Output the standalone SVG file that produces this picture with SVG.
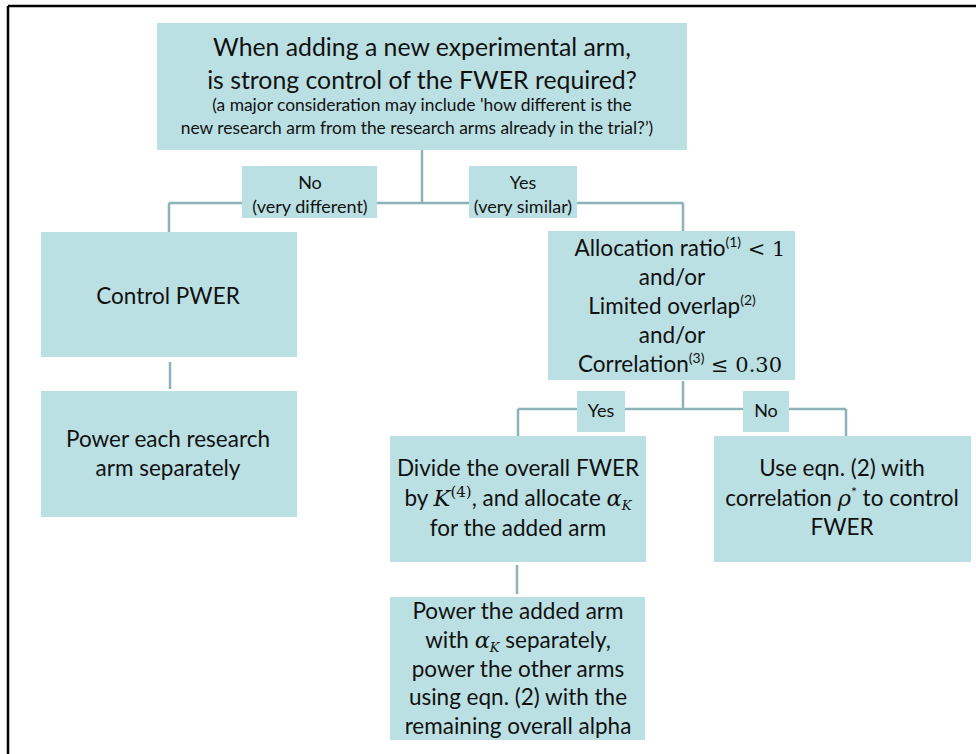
<svg xmlns="http://www.w3.org/2000/svg" width="976" height="754" viewBox="0 0 976 754">
<style>
.box{fill:#BBE0E3;}
.lbl{fill:#BBE0E3;}
.t{font-family:Lato,"Open Sans",sans-serif;fill:#111111;text-anchor:middle;}
.big{font-size:24.8px;}
.sm{font-size:17.4px;}
.m{font-size:22.5px;}
.l{font-size:18px;}
.ls{font-size:18px;}
.math{font-family:"DejaVu Serif","Liberation Serif",serif;font-style:italic;}
.conn{stroke:#8DB3B6;stroke-width:2.5;fill:none;}
</style>
<rect width="976" height="754" fill="#ffffff"/>
<path d="M8 6 H976 M8 6 V754" stroke="#000" stroke-width="2.5" fill="none"/>
<g id="connectors" class="conn">
<path d="M422 150 V203 M169 203 H683 M169 203 V232 M683 203 V231"/>
<path d="M170 362 V389"/>
<path d="M683 381 V409 M518 409 H846 M518 409 V436 M846 409 V436"/>
<path d="M517 565 V594"/>
</g>
<g id="n_top">
<rect class="box" x="157" y="23" width="530" height="127"/>
<text class="t big" x="422" y="56">When adding a new experimental arm,</text>
<text class="t big" x="422" y="89">is strong control of the FWER required?</text>
<text class="t sm" x="422" y="111">(a major consideration may include 'how different is the</text>
<text class="t sm" x="417" y="134">new research arm from the research arms already in the trial?’)</text>
</g>
<g id="l_no">
<rect class="lbl" x="242" y="166" width="135" height="52"/>
<text class="t l" x="310" y="189">No</text>
<text class="t l" x="310" y="213">(very different)</text>
</g>
<g id="l_yes">
<rect class="lbl" x="469" y="166" width="108" height="52"/>
<text class="t l" x="523" y="189">Yes</text>
<text class="t l" x="523" y="213">(very similar)</text>
</g>
<g id="n_pwer">
<rect class="box" x="41" y="232" width="256" height="125"/>
<text class="t m" x="168" y="304">Control PWER</text>
</g>
<g id="n_power_each">
<rect class="box" x="41" y="391" width="256" height="126"/>
<text class="t m" x="168" y="447">Power each research</text>
<text class="t m" x="168" y="476">arm separately</text>
</g>
<g id="n_alloc">
<rect class="box" x="548" y="231" width="247" height="149"/>
<text class="t m" x="680" y="256">Allocation ratio<tspan font-size="14" dy="-9">(1)</tspan><tspan dy="9" font-family="DejaVu Serif,serif" font-size="21"> &lt; 1</tspan></text>
<text class="t m" x="672" y="285">and/or</text>
<text class="t m" x="672" y="314">Limited overlap<tspan font-size="14" dy="-9">(2)</tspan></text>
<text class="t m" x="672" y="343">and/or</text>
<text class="t m" x="680" y="372">Correlation<tspan font-size="14" dy="-9">(3)</tspan><tspan dy="9" font-family="DejaVu Serif,serif" font-size="21"> ≤ 0.30</tspan></text>
</g>
<g id="l_yes2">
<rect class="lbl" x="577" y="391" width="48" height="41"/>
<text class="t ls" x="601" y="417">Yes</text>
</g>
<g id="l_no2">
<rect class="lbl" x="743" y="391" width="46" height="41"/>
<text class="t ls" x="766" y="417">No</text>
</g>
<g id="n_divide">
<rect class="box" x="390" y="436" width="256" height="126"/>
<text class="t m" x="518" y="476">Divide the overall FWER</text>
<text class="t m" x="518" y="506">by <tspan class="math">K</tspan><tspan font-size="15" dy="-9" font-family="DejaVu Serif,serif">(4)</tspan><tspan dy="9">, and allocate </tspan><tspan class="math">α</tspan><tspan class="math" font-size="13" dy="4">K</tspan></text>
<text class="t m" x="518" y="536">for the added arm</text>
</g>
<g id="n_useeqn">
<rect class="box" x="714" y="436" width="257" height="126"/>
<text class="t m" x="842" y="476">Use eqn. (2) with</text>
<text class="t m" x="842" y="506">correlation <tspan class="math">ρ</tspan><tspan font-size="14" dy="-9">*</tspan><tspan dy="9"> to control</tspan></text>
<text class="t m" x="842" y="535">FWER</text>
</g>
<g id="n_power_added">
<rect class="box" x="390" y="597" width="255" height="143"/>
<text class="t m" x="518" y="619">Power the added arm</text>
<text class="t m" x="518" y="648">with <tspan class="math">α</tspan><tspan class="math" font-size="13" dy="4">K</tspan><tspan dy="-4"> separately,</tspan></text>
<text class="t m" x="518" y="677">power the other arms</text>
<text class="t m" x="518" y="705">using eqn. (2) with the</text>
<text class="t m" x="518" y="734">remaining overall alpha</text>
</g>
</svg>
